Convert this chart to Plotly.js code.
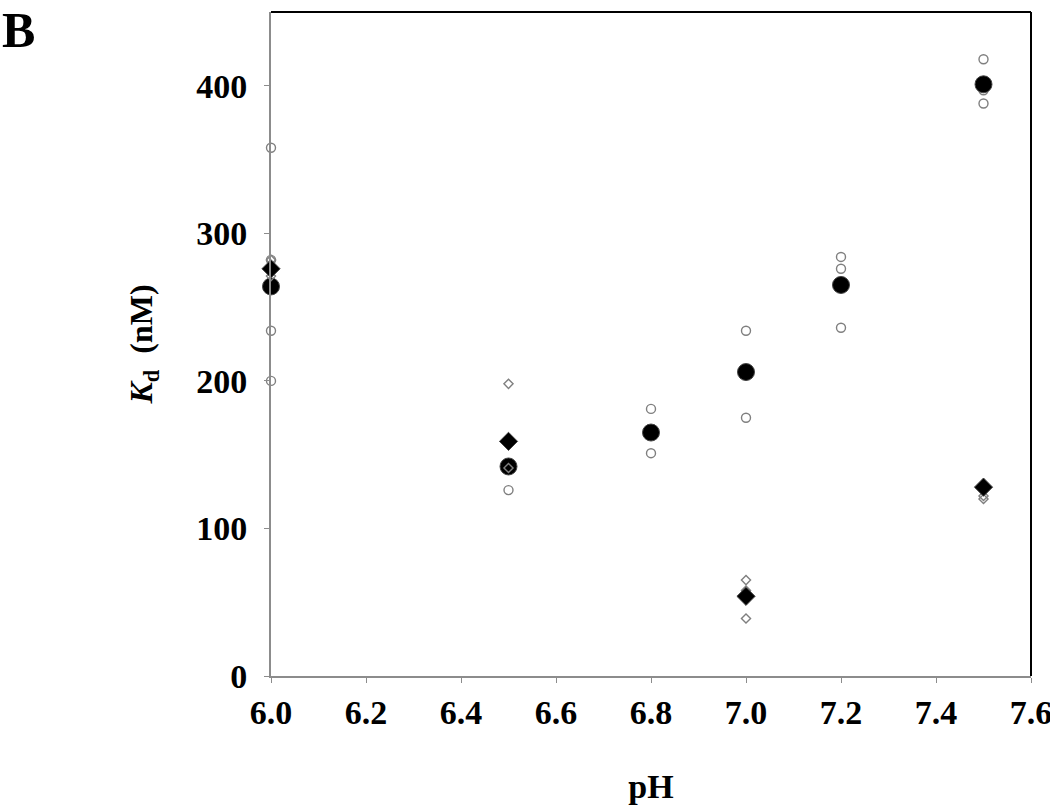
<!DOCTYPE html>
<html>
<head>
<meta charset="utf-8">
<script src="https://cdn.plot.ly/plotly-3.0.1.min.js"></script>
<style>html,body{margin:0;padding:0;background:#fff;}#chart{width:1050px;height:805px;}</style>
</head>
<body>
<div id="chart"></div>
<script>
// Individual measurements (open circles)
const circleRepX = [6.0, 6.0, 6.0, 6.0, 6.5, 6.5, 6.8, 6.8, 7.0, 7.0, 7.2, 7.2, 7.2, 7.5, 7.5, 7.5];
const circleRepY = [358, 282, 234, 200, 126, 142, 181, 151, 234, 175, 284, 276, 236, 418, 397, 388];
// Mean values (filled circles)
const circleMeanX = [6.0, 6.5, 6.8, 7.0, 7.2, 7.5];
const circleMeanY = [264, 142, 165, 206, 265, 401];
// Individual measurements (open diamonds)
const diamondRepX = [6.0, 6.0, 6.5, 6.5, 7.0, 7.0, 7.0, 7.5, 7.5];
const diamondRepY = [282, 271, 198, 141, 65, 58, 39, 122, 120];
// Mean values (filled diamonds)
const diamondMeanX = [6.0, 6.5, 7.0, 7.5];
const diamondMeanY = [276, 159, 54, 128];

const xTicks = [6.0, 6.2, 6.4, 6.6, 6.8, 7.0, 7.2, 7.4, 7.6];
const xTickLabels = ['6.0', '6.2', '6.4', '6.6', '6.8', '7.0', '7.2', '7.4', '7.6'];
const yTicks = [0, 100, 200, 300, 400];
const yTickLabels = ['0', '100', '200', '300', '400'];

const serif = 'Liberation Serif, Times New Roman, serif';
const gray = '#8c8c8c';

const traces = [
  {x: circleRepX, y: circleRepY, type: 'scatter', mode: 'markers', cliponaxis: false,
   marker: {symbol: 'circle-open', size: 9, color: '#7f7f7f', line: {width: 1.4, color: '#7f7f7f'}}},
  {x: circleMeanX, y: circleMeanY, type: 'scatter', mode: 'markers', cliponaxis: false,
   marker: {symbol: 'circle', size: 17, color: '#000', line: {width: 1, color: '#444'}}},
  {x: diamondRepX, y: diamondRepY, type: 'scatter', mode: 'markers', cliponaxis: false,
   marker: {symbol: 'diamond-open', size: 7, color: '#7f7f7f', line: {width: 1.4, color: '#7f7f7f'}}},
  {x: diamondMeanX, y: diamondMeanY, type: 'scatter', mode: 'markers', cliponaxis: false,
   marker: {symbol: 'diamond', size: 14, color: '#000', line: {width: 1, color: '#444'}}}
];

const layout = {
  width: 1050, height: 805,
  margin: {l: 271, r: 19, t: 12, b: 129},
  paper_bgcolor: '#fff', plot_bgcolor: '#fff',
  showlegend: false,
  font: {family: serif, color: '#000'},
  xaxis: {
    range: [6.0, 7.6], tickvals: xTicks, ticktext: xTickLabels,
    showgrid: false, zeroline: false,
    showline: true, linecolor: gray, linewidth: 2,
    ticks: 'outside', ticklen: 5, tickwidth: 1, tickcolor: gray,
    ticklabeloverflow: 'allow',
    tickfont: {family: serif, size: 34, weight: 'bold', color: '#000'},
    title: {text: '\u00a0\u00a0\u00a0\u00a0\u00a0pH', standoff: 44, font: {family: serif, size: 34, weight: 'bold', color: '#000'}}
  },
  yaxis: {
    range: [0, 450], tickvals: yTicks, ticktext: yTickLabels,
    showgrid: false, zeroline: false,
    showline: true, linecolor: gray, linewidth: 2,
    ticks: 'outside', ticklen: 5, tickwidth: 1, tickcolor: gray,
    ticklabelstandoff: 10,
    tickfont: {family: serif, size: 34, weight: 'bold', color: '#000'},
    title: {text: '<i>K</i><sub>d</sub>  (nM)', standoff: 34, font: {family: serif, size: 32, weight: 'bold', color: '#000'}}
  },
  shapes: [
    {type: 'line', xref: 'paper', yref: 'paper', x0: 0, x1: 1, y0: 1, y1: 1, line: {color: '#000', width: 2}},
    {type: 'line', xref: 'paper', yref: 'paper', x0: 1, x1: 1, y0: 0, y1: 1, line: {color: '#000', width: 2}}
  ],
  annotations: [
    {text: 'B', xref: 'paper', yref: 'paper', x: -271/760, y: 1 + 12/664, xanchor: 'left', yanchor: 'top',
     showarrow: false, font: {family: serif, size: 50, weight: 'bold', color: '#000'}}
  ]
};

Plotly.newPlot('chart', traces, layout, {displayModeBar: false, staticPlot: true});
</script>
</body>
</html>
